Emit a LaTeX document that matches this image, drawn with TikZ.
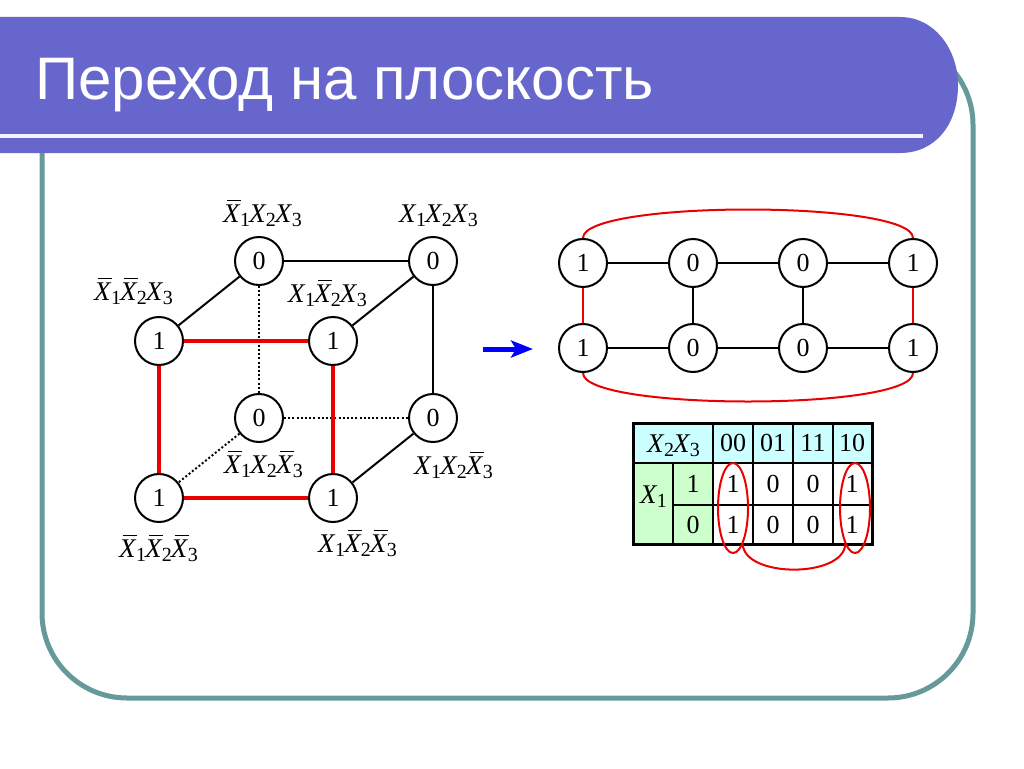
\documentclass[tikz,border=0pt]{standalone}
\usepackage{fontspec}
\setmainfont{Liberation Serif}
\newfontfamily\titlefont{Liberation Sans}
\usetikzlibrary{arrows.meta,shapes.geometric}
\definecolor{barblue}{RGB}{102,102,204}
\definecolor{frameteal}{RGB}{102,153,153}
\definecolor{hdrcyan}{RGB}{204,255,255}
\definecolor{cellgreen}{RGB}{204,255,204}
\definecolor{kred}{RGB}{235,0,0}
\newcommand\LX[1]{\textit{X}\kern-0.5pt\raisebox{-4pt}{\fontsize{20}{20}\selectfont #1}\kern-1pt}
\newcommand\LXb[1]{\rlap{\hspace{4pt}\rule[21pt]{14pt}{1.2pt}}\LX{#1}}
\begin{document}
\begin{tikzpicture}[x=1pt,y=-1pt,
  vtx/.style={circle,draw,line width=2pt,minimum size=48pt,inner sep=0pt,fill=white,font=\fontsize{26}{26}\selectfont},
  lbl/.style={anchor=base,inner sep=0pt,font=\fontsize{27}{27}\selectfont},
  blk/.style={line width=2pt},
  redge/.style={line width=4.5pt,draw=kred},
  dedge/.style={line width=2pt,dash pattern=on 2pt off 2.2pt},
  thinred/.style={line width=2pt,draw=kred},
  numtxt/.style={inner sep=0pt,font=\fontsize{26}{26}\selectfont},
  grid/.style={line width=1.6pt}]
\fill[white] (0,0) rectangle (1024,768);
\useasboundingbox (0,0) rectangle (1024,768);
% frame
\draw[frameteal,line width=5pt,rounded corners=85pt] (42,40) rectangle (973,698);
% title bar
\fill[barblue] (0,17) -- (900,17) .. controls (935,17) and (958,50) .. (958,85)
  .. controls (958,125) and (935,153) .. (900,153) -- (0,153) -- cycle;
\coordinate (ul1) at (0,136);
\coordinate (ul2) at (923,136);
\draw[line width=4pt,color=white!92!barblue] (ul1) -- (ul2);
\node[anchor=base west,inner sep=0pt,text=white,font=\titlefont\fontsize{60}{60}\selectfont] (title) at (35,99) {Переход на плоскость};

% cube
\node[vtx] (A) at (259,261) {0};
\node[vtx] (B) at (433,261) {0};
\node[vtx] (C) at (159,341) {1};
\node[vtx] (D) at (333,341) {1};
\node[vtx] (E) at (259,418) {0};
\node[vtx] (F) at (433,418) {0};
\node[vtx] (G) at (159,498) {1};
\node[vtx] (H) at (333,498) {1};
\draw[dedge] (A) -- (E);
\draw[dedge] (E) -- (F);
\draw[dedge] (E) -- (G);
\draw[blk] (A) -- (B);
\draw[blk] (A) -- (C);
\draw[blk] (B) -- (D);
\draw[blk] (B) -- (F);
\draw[blk] (F) -- (H);
\draw[redge] (C) -- (D);
\draw[redge] (C) -- (G);
\draw[redge] (D) -- (H);
\draw[redge] (G) -- (H);
\node[lbl] (lA) at (262,222) {\LXb{1}\LX{2}\LX{3}};
\node[lbl] (lB) at (438,222) {\LX{1}\LX{2}\LX{3}};
\node[lbl] (lC) at (133,300) {\LXb{1}\LXb{2}\LX{3}};
\node[lbl] (lD) at (327,302) {\LX{1}\LXb{2}\LX{3}};
\node[lbl] (lE) at (263,473) {\LXb{1}\LX{2}\LXb{3}};
\node[lbl] (lF) at (453,474) {\LX{1}\LX{2}\LXb{3}};
\node[lbl] (lG) at (158,557) {\LXb{1}\LXb{2}\LXb{3}};
\node[lbl] (lH) at (357,552) {\LX{1}\LXb{2}\LXb{3}};

% arrow
\coordinate (ar1) at (483,349);
\coordinate (ar2) at (533,349);
\draw[blue,line width=5pt,-{Stealth[length=22pt,width=17pt,inset=5pt]}] (ar1) -- (ar2);

% flat graph
\node[vtx] (t1) at (583,263) {1};
\node[vtx] (t2) at (693,263) {0};
\node[vtx] (t3) at (803,263) {0};
\node[vtx] (t4) at (913,263) {1};
\node[vtx] (b1) at (583,348) {1};
\node[vtx] (b2) at (693,348) {0};
\node[vtx] (b3) at (803,348) {0};
\node[vtx] (b4) at (913,348) {1};
\draw[blk] (t1) -- (t2);
\draw[blk] (t2) -- (t3);
\draw[blk] (t3) -- (t4);
\draw[blk] (b1) -- (b2);
\draw[blk] (b2) -- (b3);
\draw[blk] (b3) -- (b4);
\draw[blk] (t2) -- (b2);
\draw[blk] (t3) -- (b3);
\draw[thinred] (t1) -- (b1);
\draw[thinred] (t4) -- (b4);
\draw[thinred] (t1.north) .. controls (583,200) and (913,200) .. (t4.north);
\draw[thinred] (b1.south) .. controls (583,411) and (913,411) .. (b4.south);

% table
\fill[hdrcyan] (633,423) rectangle (872,463);
\fill[cellgreen] (633,463) rectangle (713,544);
\draw[grid] (673,463) -- (673,544);
\draw[grid] (713,423) -- (713,544);
\draw[grid] (753,423) -- (753,544);
\draw[grid] (793,423) -- (793,544);
\draw[grid] (833,423) -- (833,544);
\draw[grid] (633,463) -- (872,463);
\draw[grid] (673,505) -- (872,505);
\draw[line width=3pt] (633,423) rectangle (872,544);
\node[lbl] (hx) at (673,452) {\LX{2}\LX{3}};
\node[numtxt] (h1) at (733,443) {00};
\node[numtxt] (h2) at (773,443) {01};
\node[numtxt] (h3) at (813,443) {11};
\node[numtxt] (h4) at (852,443) {10};
\node[lbl] (x1) at (653,503) {\LX{1}};
\node[numtxt] (r1) at (693,484) {1};
\node[numtxt] (r0) at (693,525) {0};
\node[numtxt] (c11) at (733,484) {1};
\node[numtxt] (c12) at (773,484) {0};
\node[numtxt] (c13) at (813,484) {0};
\node[numtxt] (c14) at (852,484) {1};
\node[numtxt] (c01) at (733,525) {1};
\node[numtxt] (c02) at (773,525) {0};
\node[numtxt] (c03) at (813,525) {0};
\node[numtxt] (c04) at (852,525) {1};
\node[ellipse,draw=kred,line width=2pt,minimum width=30pt,minimum height=90pt,inner sep=0pt] (e1) at (733,508) {};
\node[ellipse,draw=kred,line width=2pt,minimum width=30pt,minimum height=90pt,inner sep=0pt] (e2) at (855,508) {};
\draw[thinred] (e1.-75) .. controls (745,578) and (843,578) .. (e2.-105);
\end{tikzpicture}
\end{document}
